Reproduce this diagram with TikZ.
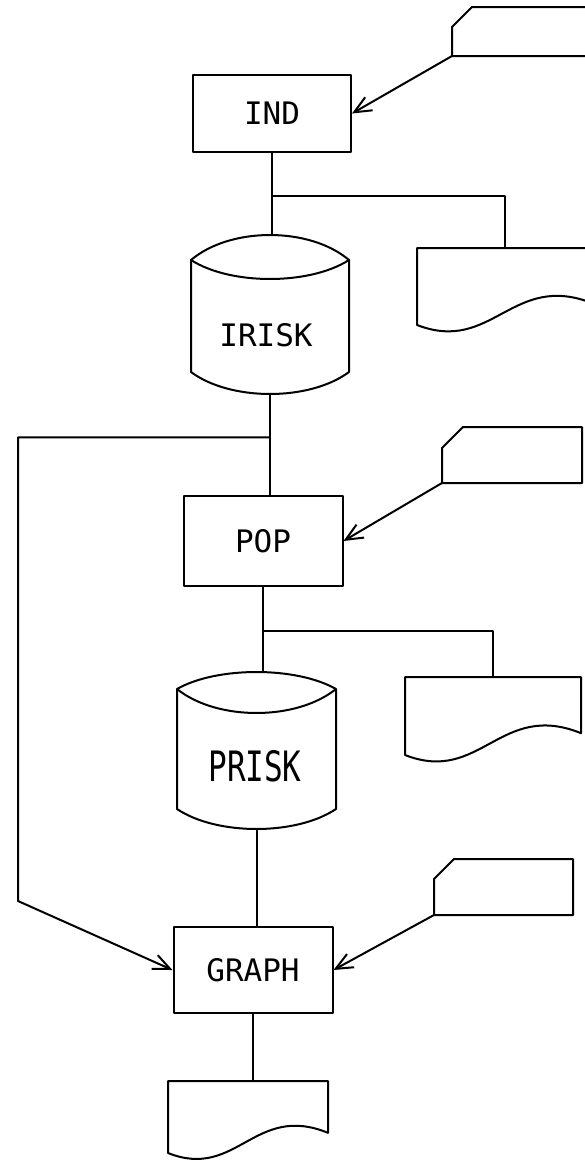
\documentclass[tikz,border=0pt]{standalone}
\usepackage{fontspec}
\usepackage{graphicx}
\newfontfamily\plotfont{DejaVu Sans Mono}
\usetikzlibrary{arrows.meta,calc}
\tikzset{
  ln/.style={line width=2pt, line join=round},
  procbox/.style={draw, ln, rectangle, inner sep=0pt, font=\plotfont\fontsize{31}{31}\selectfont},
  ghost/.style={rectangle, inner sep=0pt, outer sep=0pt, draw=none},
  txt/.style={font=\plotfont\fontsize{31}{31}\selectfont, inner sep=0pt},
  arr/.style={ln, -{Straight Barb[length=17pt,width=15pt]}},
}
% name L T W H
\newcommand\mkdoc[5]{%
  \node[ghost, anchor=north west, minimum width=#4pt, minimum height=#5pt] (#1) at (#2,#3) {};
  \draw[ln] (#2,{#3+#5}) -- (#2,#3) -- ({#2+#4},#3) -- ({#2+#4},{#3+0.72*#5})
    .. controls ({#2+0.54*#4},{#3+0.3*#5}) and ({#2+0.43*#4},{#3+1.38*#5}) .. cycle;
}
% name L T W H cut
\newcommand\mkcard[6]{%
  \node[ghost, anchor=north west, minimum width=#4pt, minimum height=#5pt] (#1) at (#2,#3) {};
  \draw[ln] (#2,{#3+#5}) -- (#2,{#3+#6}) -- ({#2+#6},#3) -- ({#2+#4},#3) -- ({#2+#4},{#3+#5}) -- cycle;
}
% name L T W H a d b
\newcommand\mkcyl[8]{%
  \node[ghost, anchor=north west, minimum width=#4pt, minimum height=#5pt] (#1) at (#2,#3) {};
  \draw[ln] (#2,{#3+#6}) .. controls ({#2+0.25*#4},{#3-0.333*#6}) and ({#2+0.75*#4},{#3-0.333*#6}) .. ({#2+#4},{#3+#6})
    -- ({#2+#4},{#3+#5-#8}) .. controls ({#2+0.75*#4},{#3+#5+0.333*#8}) and ({#2+0.25*#4},{#3+#5+0.333*#8}) .. (#2,{#3+#5-#8}) -- cycle;
  \draw[ln] (#2,{#3+#6}) .. controls ({#2+0.25*#4},{#3+#6+1.333*#7}) and ({#2+0.75*#4},{#3+#6+1.333*#7}) .. ({#2+#4},{#3+#6});
}
\begin{document}
\begin{tikzpicture}[x=1pt,y=-1pt]
  \fill[white] (0,0) rectangle (585,1165);
  \useasboundingbox (0,0) rectangle (585,1165);
  \clip (0,0) rectangle (585,1165);

  % processes
  \node[procbox, minimum width=158pt, minimum height=77pt] (ind) at (272,113.5) {IND};
  \node[procbox, minimum width=159pt, minimum height=90pt] (pop) at (263,541) {POP};
  \node[procbox, minimum width=159pt, minimum height=86pt] (graph) at (253,970) {GRAPH};

  % storage
  \mkcyl{irisk}{191}{235}{158}{159}{25}{19}{22}
  \node[txt] (irisktxt) at (266,335) {IRISK};
  \mkcyl{prisk}{177}{672}{159}{157}{17}{24}{20}
  \node[txt] (prisktxt) at (255,766) {\scalebox{1}[1.35]{PRISK}};

  % cards
  \mkcard{card1}{452}{7}{160}{49}{20}
  \mkcard{card2}{442}{427}{140}{56}{21}
  \mkcard{card3}{434}{859}{139}{56}{20}

  % documents
  \mkdoc{doc1}{417}{248}{176}{77}
  \mkdoc{doc2}{405}{677}{176}{78}
  \mkdoc{doc3}{168}{1081}{160}{72}

  % connectors
  \draw[arr] (card1.south west) -- (ind.east);
  \draw[ln] (ind.south) -- (ind.south |- irisk.north);
  \coordinate (j1) at ($(ind.south)!0.52!(ind.south |- irisk.north)$);
  \draw[ln] (j1) -| (doc1.north);

  \draw[ln] (irisk.south) -- (irisk.south |- pop.north);
  \coordinate (j2) at ($(irisk.south)!0.43!(irisk.south |- pop.north)$);
  \coordinate (c2) at (18,901);
  \draw[arr] (j2) -| (c2) -- (graph.west);

  \draw[arr] (card2.south west) -- (pop.east);
  \draw[ln] (pop.south) -- (pop.south |- prisk.north);
  \coordinate (j3) at ($(pop.south)!0.52!(pop.south |- prisk.north)$);
  \draw[ln] (j3) -| (doc2.north);

  \draw[ln] (prisk.south) -- (prisk.south |- graph.north);
  \draw[arr] (card3.south west) -- (graph.east);
  \draw[ln] (graph.south) -- (graph.south |- doc3.north);
\end{tikzpicture}
\end{document}
